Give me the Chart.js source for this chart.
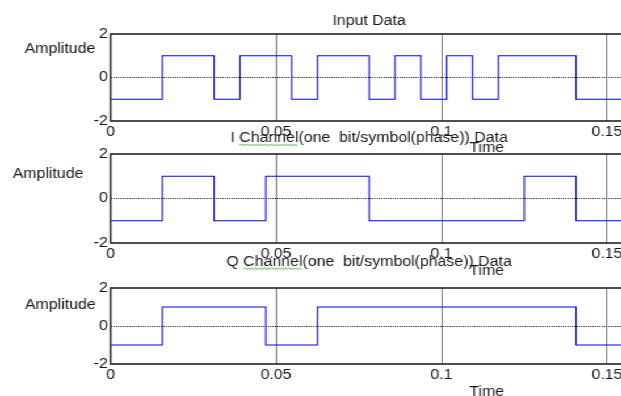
<!DOCTYPE html>
<html>
<head>
<meta charset="utf-8">
<script src="https://cdn.jsdelivr.net/npm/chart.js@4/dist/chart.umd.min.js"></script>
<style>
  html, body { margin: 0; padding: 0; background: #fff; overflow: hidden; width: 621px; height: 396px; }
  /* the three panels share one stage, stretched a little horizontally */
  #stage { position: absolute; left: 0; top: 0; width: 560px; height: 396px; transform: scaleX(1.135); transform-origin: 0 0; }
  #stage canvas { position: absolute; left: 0; top: 0; }
</style>
</head>
<body>
<div id="stage">
  <canvas id="cInput" width="560" height="396"></canvas>
  <canvas id="cI" width="560" height="396"></canvas>
  <canvas id="cQ" width="560" height="396"></canvas>
</div>
<script>
// bit boundaries (s) and the serial input bit stream in NRZ form
const bitTimes = [0, 0.0078125, 0.015625, 0.0234375, 0.03125, 0.0390625, 0.046875,
  0.0546875, 0.0625, 0.0703125, 0.078125, 0.0859375, 0.09375, 0.1015625, 0.109375,
  0.1171875, 0.125, 0.1328125, 0.140625, 0.1484375, 0.15625];
const inputBits = [-1, -1, 1, 1, -1, 1, 1, -1, 1, 1, -1, 1, -1, 1, -1, 1, 1, 1, -1, -1];

// symbol boundaries (s) and the I / Q channel symbols
const symbolTimes = [0, 0.015625, 0.03125, 0.046875, 0.0625, 0.078125, 0.09375,
  0.109375, 0.125, 0.140625, 0.15625];
const iSymbols = [-1, 1, -1, 1, 1, -1, -1, -1, 1, -1];
const qSymbols = [-1, 1, 1, -1, 1, 1, 1, 1, 1, -1];

// axes
const xTicks = [0, 0.05, 0.1, 0.15];
const xTickLabels = ['0', '0.05', '0.1', '0.15'];
const xMin = 0, xMax = 0.15625;
const yTicks = [-2, 0, 2];
const yTickLabels = ['-2', '0', '2'];
const yMin = -2, yMax = 2;

const titles = ['Input Data', 'I Channel(one  bit/symbol(phase)) Data', 'Q Channel(one  bit/symbol(phase)) Data'];
const yLabel = 'Amplitude';
const xLabel = 'Time';

const FONT = "'Liberation Sans', Arial, sans-serif";
const TEXT = '#1a1a1a';
const X_AXIS_H = 28;
Chart.defaults.font.family = FONT;
Chart.defaults.font.size = 14;
Chart.defaults.color = TEXT;

// step points: each value holds until the next boundary
function stepPoints(times, values) {
  return times.map((t, i) => ({ x: t, y: values[Math.min(i, values.length - 1)] }));
}

function drawSquiggle(ctx, x0, x1, y) {
  ctx.save();
  ctx.strokeStyle = '#6cc06c';
  ctx.lineWidth = 1;
  ctx.beginPath();
  let up = true;
  ctx.moveTo(x0, y);
  for (let x = x0 + 1.5; x <= x1; x += 1.5) {
    ctx.lineTo(x, up ? y - 1 : y + 1);
    up = !up;
  }
  ctx.stroke();
  ctx.restore();
}

function panel(canvasId, points, layout) {
  const annotate = {
    id: 'annotate',
    afterDraw(chart) {
      const { ctx, chartArea: a } = chart;
      ctx.save();
      // axes box
      ctx.strokeStyle = '#222';
      ctx.lineWidth = 1.6;
      ctx.strokeRect(a.left, a.top, a.right - a.left, a.bottom - a.top);
      // texts
      ctx.font = '14px ' + FONT;
      ctx.fillStyle = TEXT;
      ctx.textBaseline = 'alphabetic';
      const cx = (a.left + a.right) / 2;
      ctx.textAlign = 'center';
      ctx.fillText(layout.title, cx, layout.titleY);
      ctx.fillText(xLabel, layout.timeX, layout.timeY);
      ctx.textAlign = 'left';
      ctx.fillText(yLabel, layout.ampX, layout.ampY);
      if (layout.squiggle) {
        const w = ctx.measureText(layout.title).width;
        const left = cx - w / 2;
        const s = left + ctx.measureText(layout.title.slice(0, 2)).width;
        const e = s + ctx.measureText('Channel').width;
        drawSquiggle(ctx, s, e, layout.titleY + 3);
      }
      ctx.restore();
    }
  };

  return new Chart(document.getElementById(canvasId), {
    type: 'line',
    data: {
      datasets: [{
        data: points,
        stepped: true,
        borderColor: '#0000ff',
        borderWidth: 1.1,
        pointRadius: 0,
        fill: false,
        tension: 0
      }]
    },
    options: {
      responsive: false,
      animation: false,
      devicePixelRatio: 1,
      events: [],
      layout: {
        autoPadding: false,
        padding: { left: 0, right: 560 - layout.right, top: layout.top, bottom: 396 - layout.bottom - X_AXIS_H }
      },
      plugins: { legend: { display: false }, tooltip: { enabled: false }, title: { display: false } },
      scales: {
        x: {
          type: 'linear',
          min: xMin,
          max: xMax,
          afterFit: s => { s.height = X_AXIS_H; },
          afterBuildTicks: s => { s.ticks = xTicks.map(v => ({ value: v })); },
          ticks: {
            autoSkip: false,
            maxRotation: 0,
            padding: 3,
            color: TEXT,
            callback: (v, i) => xTickLabels[i]
          },
          grid: { color: '#747474', lineWidth: 1, drawTicks: false },
          border: { display: false }
        },
        y: {
          type: 'linear',
          min: yMin,
          max: yMax,
          afterFit: s => { s.width = layout.left; },
          afterBuildTicks: s => { s.ticks = yTicks.map(v => ({ value: v })); },
          ticks: {
            padding: 2.5,
            color: TEXT,
            callback: (v, i) => yTickLabels[i]
          },
          grid: {
            color: c => (c.tick && c.tick.value === 0 ? '#222' : 'rgba(0,0,0,0)'),
            lineWidth: 1,
            drawTicks: false
          },
          border: { display: false, dash: [1, 1] }
        }
      }
    },
    plugins: [annotate]
  });
}

const LEFT = 97.5, RIGHT = 553, TIME_X = 428.8;

panel('cInput', stepPoints(bitTimes, inputBits), {
  left: LEFT, right: RIGHT, top: 34, bottom: 121,
  title: titles[0], titleY: 25, ampX: 21.7, ampY: 52.7, timeX: TIME_X, timeY: 152.3, squiggle: false
});
panel('cI', stepPoints(symbolTimes, iSymbols), {
  left: LEFT, right: RIGHT, top: 154, bottom: 243,
  title: titles[1], titleY: 142, ampX: 11.2, ampY: 177.7, timeX: TIME_X, timeY: 275.3, squiggle: true
});
panel('cQ', stepPoints(symbolTimes, qSymbols), {
  left: LEFT, right: RIGHT, top: 288, bottom: 364,
  title: titles[2], titleY: 265.7, ampX: 22, ampY: 309.3, timeX: TIME_X, timeY: 395.5, squiggle: true
});
</script>
</body>
</html>
